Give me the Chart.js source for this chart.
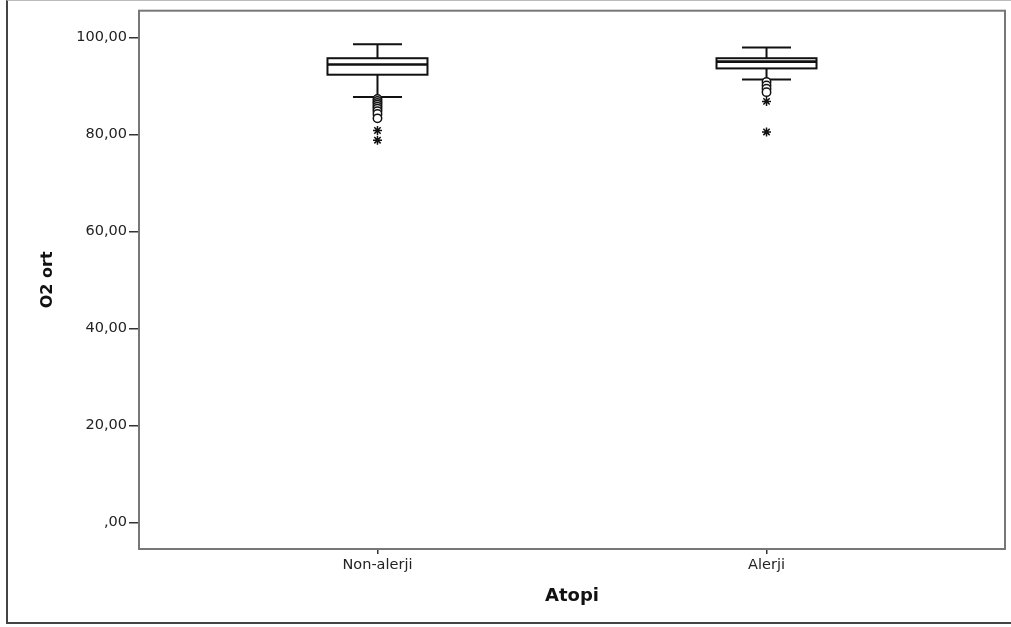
<!DOCTYPE html>
<html>
<head>
<meta charset="utf-8">
<script src="https://cdn.jsdelivr.net/npm/chart.js@4"></script>
<style>
    html, body { margin: 0; padding: 0; background: #fff; }
    #wrap { position: relative; width: 1011px; height: 627px; }
    #frame { position: absolute; left: 6px; top: 0; width: 1010px; height: 624px;
             border-left: 2px solid #444; border-bottom: 2px solid #444; border-top: 1px solid #bbb; box-sizing: border-box; }
    canvas { position: absolute; left: 0; top: 0; }
</style>
</head>
<body>
<div id="wrap">
    <div id="frame"></div>
    <canvas id="O2Stats" width="1011" height="627"></canvas>
</div>
<script>
//
// Data
var categories = ['Non-alerji', 'Alerji'];
var whisker_low = [87.7, 91.3];
var q1 = [92.3, 93.6];
var median = [94.4, 95.0];
var q3 = [95.7, 95.7];
var whisker_high = [98.6, 97.9];
var outliers_non = [87.3, 86.9, 86.5, 86.1, 85.7, 85.3, 84.8, 84.2, 83.3];
var extremes_non = [80.8, 78.8];
var outliers_alerji = [90.8, 90.1, 89.4, 88.7];
var extremes_alerji = [86.8, 80.5];
var y_ticks = [0, 20, 40, 60, 80, 100];

var toPoints = function(pos, values) {
    return values.map(function(v) { return {x: pos, y: v}; });
};

//
// Box plot drawing through the scales
var boxPlugin = {
    id: 'boxes',
    beforeDatasetsDraw: function(chart) {
        var ctx = chart.ctx;
        var xs = chart.scales.x, ys = chart.scales.y;
        ctx.save();
        ctx.strokeStyle = '#111';
        ctx.lineWidth = 2;
        categories.forEach(function(c, i) {
            var px = xs.getPixelForValue(i);
            var half = 50, cap = 24.5;
            var yLo = ys.getPixelForValue(whisker_low[i]);
            var yQ1 = ys.getPixelForValue(q1[i]);
            var yMed = ys.getPixelForValue(median[i]);
            var yQ3 = ys.getPixelForValue(q3[i]);
            var yHi = ys.getPixelForValue(whisker_high[i]);
            // whiskers
            ctx.beginPath();
            ctx.moveTo(px, yHi); ctx.lineTo(px, yQ3);
            ctx.moveTo(px, yQ1); ctx.lineTo(px, yLo);
            ctx.moveTo(px - cap, yHi); ctx.lineTo(px + cap, yHi);
            ctx.moveTo(px - cap, yLo); ctx.lineTo(px + cap, yLo);
            ctx.stroke();
            // box
            ctx.fillStyle = '#fff';
            ctx.fillRect(px - half, yQ3, half * 2, yQ1 - yQ3);
            ctx.strokeRect(px - half, yQ3, half * 2, yQ1 - yQ3);
            // median
            ctx.lineWidth = 2.6;
            ctx.beginPath();
            ctx.moveTo(px - half, yMed); ctx.lineTo(px + half, yMed);
            ctx.stroke();
            ctx.lineWidth = 2;
        });
        ctx.restore();
    },
    afterDraw: function(chart) {
        var a = chart.chartArea, ctx = chart.ctx;
        ctx.save();
        ctx.strokeStyle = '#777';
        ctx.lineWidth = 2;
        ctx.strokeRect(a.left, a.top, a.right - a.left, a.bottom - a.top);
        ctx.restore();
    }
};

var o2 = document.getElementById('O2Stats').getContext('2d');
new Chart(o2, {
    type: 'scatter',
    data: {
        datasets: [{
            data: toPoints(0, outliers_non).concat(toPoints(1, outliers_alerji)),
            pointStyle: 'circle',
            pointRadius: 4.2,
            borderColor: '#111',
            backgroundColor: '#fff',
            pointBorderWidth: 1.5
        }, {
            data: toPoints(0, extremes_non).concat(toPoints(1, extremes_alerji)),
            pointStyle: 'star',
            pointRadius: 4.5,
            borderColor: '#111',
            pointBorderWidth: 1.5
        }]
    },
    options: {
        responsive: false,
        animation: false,
        layout: { padding: { top: 8, right: 3, left: 0, bottom: 0 } },
        plugins: { legend: { display: false }, tooltip: { enabled: false } },
        scales: {
            x: {
                type: 'linear',
                min: -0.613,
                max: 1.613,
                afterFit: function(s) { s.height = 78; },
                afterBuildTicks: function(s) { s.ticks = [{value: 0}, {value: 1}]; },
                grid: { drawOnChartArea: false, tickLength: 5, color: '#333', lineWidth: 1.5 },
                border: { display: true, color: '#666', width: 2 },
                ticks: {
                    padding: 3,
                    color: '#222',
                    font: { family: 'DejaVu Sans', size: 14.5 },
                    callback: function(v) { return categories[v]; }
                },
                title: {
                    display: true,
                    text: 'Atopi',
                    color: '#111',
                    padding: { bottom: 20 },
                    font: { family: 'DejaVu Sans', size: 18, weight: 'bold' }
                }
            },
            y: {
                min: -5.5,
                max: 105.5,
                afterFit: function(s) { s.width = 139; },
                afterBuildTicks: function(s) { s.ticks = y_ticks.map(function(v) { return {value: v}; }); },
                grid: { drawOnChartArea: false, tickLength: 10, color: '#333', lineWidth: 1.5 },
                border: { display: true, color: '#666', width: 2 },
                ticks: {
                    padding: 2,
                    color: '#222',
                    font: { family: 'DejaVu Sans', size: 14.5 },
                    callback: function(v) {
                        var t = v.toFixed(2).replace('.', ',');
                        return v === 0 ? ',00' : t;
                    }
                },
                title: {
                    display: true,
                    text: 'O2 ort',
                    color: '#111',
                    padding: { top: 38 },
                    font: { family: 'DejaVu Sans', size: 16, weight: 'bold' }
                }
            }
        }
    },
    plugins: [boxPlugin]
});
</script>
</body>
</html>
